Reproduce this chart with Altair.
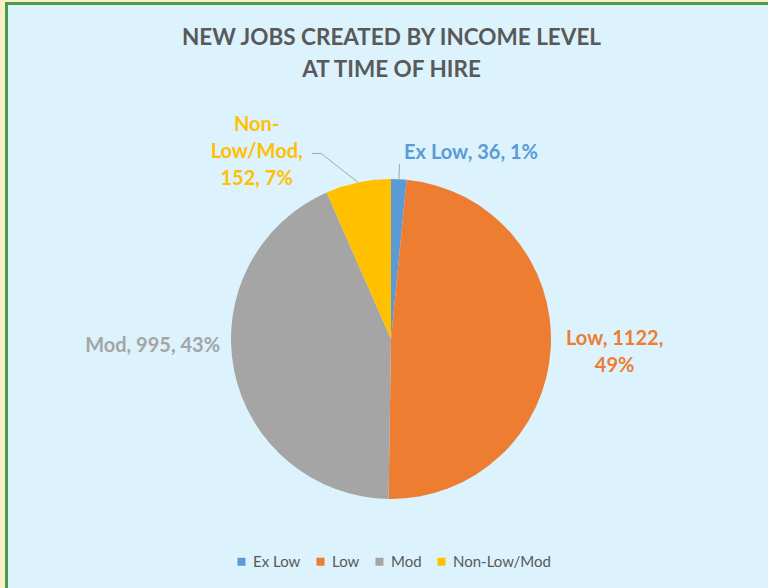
import math
import altair as alt
import pandas as pd

# ---- data ----
categories = ["Ex Low", "Low", "Mod", "Non-Low/Mod"]
counts = [36, 1122, 995, 152]
percents = [1, 49, 43, 7]
colors = ["#5b9bd5", "#ed7d31", "#a5a5a5", "#ffc000"]
title_lines = ["NEW JOBS CREATED BY INCOME LEVEL", "AT TIME OF HIRE"]

total = sum(counts)
df = pd.DataFrame({"category": categories, "count": counts, "percent": percents})
df["order"] = range(len(df))
df["mid"] = df["count"].cumsum() - df["count"] / 2


def make_label(cat, n, p):
    if cat == "Low":
        return f"{cat}, {n},\n{p}%"
    if cat == "Non-Low/Mod":
        a, b = cat.split("-", 1)
        return f"{a}-\n{b},\n{n}, {p}%"
    return f"{cat}, {n}, {p}%"


df["label"] = [make_label(c, n, p) for c, n, p in zip(categories, counts, percents)]

# ---- layout ----
PAD_L, PAD_T = 5, 2
W, H = 768 - PAD_L, 588 - PAD_T
CX, CY = 391 - PAD_L, 339 - PAD_T
R = 160
FONT = "Lato"

theta_scale = alt.Scale(domain=[0, total], range=[0, 2 * math.pi])

base = alt.Chart(df)

pie = base.mark_arc(outerRadius=R).encode(
    theta=alt.Theta("count:Q", stack=True, scale=theta_scale),
    color=alt.Color(
        "category:N",
        scale=alt.Scale(domain=categories, range=colors),
        sort=categories,
        legend=alt.Legend(
            title=None,
            orient="none",
            direction="horizontal",
            legendX=229,
            legendY=552,
            symbolType="square",
            symbolSize=64,
            symbolStrokeWidth=0,
            labelFont=FONT,
            labelFontSize=15,
            labelColor="#595959",
            labelOffset=4,
            columnPadding=12,
            padding=0,
        ),
    ),
    order=alt.Order("order:Q"),
    x=alt.value(CX),
    y=alt.value(CY),
)

# per-label placement (layout only)
label_layout = {
    "Ex Low": dict(radius=186, align="left", dx=4, dy=0),
    "Low": dict(radius=224, align="center", dx=0, dy=-13),
    "Mod": dict(radius=154, align="right", dx=-20, dy=-24),
    "Non-Low/Mod": dict(radius=196, align="center", dx=-94, dy=-22),
}

label_layers = []
for cat, col in zip(categories, colors):
    lay = label_layout[cat]
    label_layers.append(
        base.transform_filter(alt.datum.category == cat)
        .mark_text(
            radius=lay["radius"],
            align=lay["align"],
            baseline="middle",
            dx=lay["dx"],
            dy=lay["dy"],
            font=FONT,
            fontSize=20,
            fontWeight="bold",
            color=col,
            lineBreak="\n",
            lineHeight=27,
        )
        .encode(
            theta=alt.Theta("mid:Q", stack=None, scale=theta_scale),
            text="label:N",
            x=alt.value(CX),
            y=alt.value(CY),
        )
    )

# leader lines derived from the slice mid angles
def polar(frac, r):
    a = frac * 2 * math.pi
    return CX + r * math.sin(a), CY - r * math.cos(a)

mid_frac = dict(zip(categories, (df["mid"] / total).tolist()))
ex0 = polar(mid_frac["Ex Low"], R)
ex1 = polar(mid_frac["Ex Low"], R + 15)
nl0 = polar(mid_frac["Non-Low/Mod"], R)
nl1 = (nl0[0] - 37, nl0[1] - 29)
nl2 = (nl1[0] - 9, nl1[1])

leaders = []
for (p, q) in [(ex0, ex1), (nl0, nl1), (nl1, nl2)]:
    leaders.append(
        alt.Chart(pd.DataFrame({"k": [0]}))
        .mark_rule(color="#a6a6a6", strokeWidth=1)
        .encode(x=alt.value(p[0]), y=alt.value(p[1]), x2=alt.value(q[0]), y2=alt.value(q[1]))
    )

title = (
    alt.Chart(pd.DataFrame({"t": ["\n".join(title_lines)]}))
    .mark_text(
        align="center",
        baseline="middle",
        font=FONT,
        fontSize=22.5,
        fontWeight="bold",
        color="#595959",
        lineBreak="\n",
        lineHeight=32,
    )
    .encode(text="t:N", x=alt.value(391.5 - PAD_L), y=alt.value(38 - PAD_T))
)

border = [
    alt.Chart(pd.DataFrame({"k": [0]}))
    .mark_rule(color="#4a9a4a", strokeWidth=3)
    .encode(x=alt.value(1.5), y=alt.value(0), y2=alt.value(H)),
    alt.Chart(pd.DataFrame({"k": [0]}))
    .mark_rule(color="#4a9a4a", strokeWidth=3)
    .encode(x=alt.value(0), x2=alt.value(W), y=alt.value(1.5)),
]

chart = (
    alt.layer(*border, pie, *leaders, *label_layers, title)
    .properties(
        width=W,
        height=H,
        autosize=alt.AutoSizeParams(type="none"),
        padding={"left": PAD_L, "top": PAD_T, "right": 0, "bottom": 0},
        background="#fcefc6",
    )
    .configure_view(fill="#dcf2fd", stroke=None)
)

chart.save("out.html", embed_options={"renderer": "svg", "actions": False})
